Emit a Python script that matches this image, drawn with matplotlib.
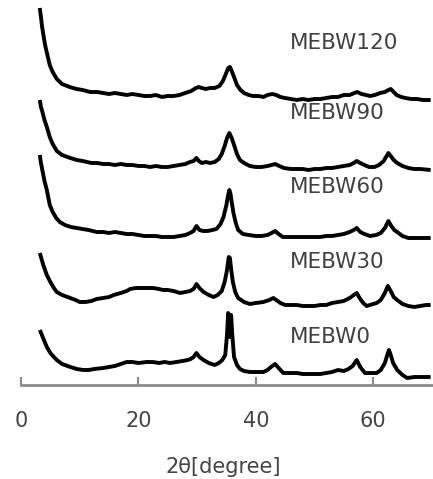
import matplotlib
matplotlib.use("Agg")
import matplotlib.pyplot as plt

# XRD patterns, intensity in arbitrary units (each pattern above its own baseline)
labels = ["MEBW0", "MEBW30", "MEBW60", "MEBW90", "MEBW120"]
offsets = [0, 70, 140, 210, 280]

x_mebw0 = [3.2, 3.5, 3.9, 4.4, 5.0, 5.6, 6.1, 7.0, 8.4, 9.5, 10.6, 11.5, 12.5, 14, 15, 16,
           17, 18, 19, 20, 21.4, 22.5, 23.5, 24.5, 25.4, 26.5, 27.5, 28.4, 28.9, 29.4,
           29.9, 30.4, 31.1, 32, 33, 33.7, 34.3, 34.8, 35.1, 35.3, 35.5, 35.6, 35.7, 35.8,
           36.0, 36.3, 36.8, 37.3, 38, 39, 40, 41.3, 42, 42.6, 43.3, 43.9, 44.7, 46, 47,
           48, 49, 50, 51, 52, 53, 54, 55, 55.8, 56.5, 57.2, 57.8, 58.6, 59.5, 60.6, 61.3,
           62, 62.4, 62.7, 63, 63.4, 64.1, 65, 65.8, 67, 68, 69.8]
i_mebw0 = [55, 51, 45, 38, 32, 28, 25, 21, 18, 16, 15, 15, 16, 17, 18, 19,
           21, 23, 23, 22, 23, 23, 22, 23, 22, 23, 24, 25, 26, 28,
           32, 28, 25, 22, 20, 22, 25, 30, 50, 72, 55, 48, 58, 70,
           50, 28, 20, 16, 14, 13, 13, 13, 15, 18, 21, 17, 12, 12, 12,
           11, 11, 11, 11, 12, 13, 15, 14, 16, 19, 25, 18, 12, 12, 12, 15,
           22, 30, 35, 30, 22, 15, 10, 7, 8, 8, 8]

x_mebw30 = [3.2, 3.5, 3.8, 4.4, 5.0, 5.6, 6.1, 7.0, 8.4, 9.3, 10, 11, 12, 12.9, 14, 15,
            15.8, 17, 18, 18.6, 19.5, 20.5, 21.4, 22.5, 23.5, 24.2, 25, 26, 27.1, 28,
            28.8, 29.4, 29.9, 30.4, 31.1, 32, 32.8, 33.5, 34.2, 34.7, 35.1, 35.4, 35.6,
            35.8, 36.1, 36.5, 37, 38, 39, 40, 41.3, 42.3, 43, 43.5, 44.2, 45, 46, 47, 48,
            49, 50, 51, 52, 53, 54, 55, 56, 56.7, 57.2, 57.7, 58.3, 58.9, 60, 60.6, 61.3,
            62, 62.5, 63, 63.5, 64.1, 65, 66, 67, 68, 69, 69.8]
i_mebw30 = [62, 56, 50, 40, 33, 27, 23, 20, 17, 15, 13, 13, 14, 16, 17, 18,
            20, 22, 24, 26, 27, 27, 27, 27, 26, 25, 25, 24, 22, 23,
            24, 26, 31, 27, 23, 20, 18, 20, 24, 33, 45, 58, 57,
            46, 33, 23, 17, 13, 11, 12, 13, 15, 17, 15, 12, 10, 10, 10, 9,
            9, 9, 10, 10, 12, 13, 14, 17, 20, 22, 17, 12, 9, 11, 12, 15,
            22, 29, 24, 18, 15, 11, 9, 8, 9, 10, 10]

x_mebw60 = [3.2, 3.4, 3.7, 4.0, 4.4, 4.9, 5.4, 6.0, 6.6, 7.5, 8.5, 9.5, 10.5, 11.5, 12.9,
            14, 15, 16, 17, 18, 19, 20, 21, 22, 23, 24, 25, 26, 27, 28, 28.8, 29.4, 29.9,
            30.4, 31, 31.8, 32.6, 33.3, 34, 34.5, 35, 35.3, 35.5, 35.7, 35.9, 36.2, 36.6,
            37, 37.8, 38.8, 40, 41, 42, 42.7, 43.3, 43.9, 44.6, 46, 47, 48, 49, 50, 51,
            52, 53, 54, 55, 56, 56.7, 57.2, 57.8, 58.5, 59.5, 60.5, 61.3, 62, 62.6, 63.1,
            63.6, 64.1, 65, 66, 67, 68, 69.8]
i_mebw60 = [90, 82, 73, 64, 55, 40, 33, 27, 23, 20, 18, 17, 16, 15, 13,
            13, 12, 13, 12, 11, 11, 10, 9, 9, 9, 8, 8, 8, 9, 10, 12, 14, 19,
            15, 14, 14, 15, 16, 21, 28, 40, 50, 55, 51, 43, 32, 22,
            15, 11, 10, 9, 9, 10, 12, 14, 11, 8, 8, 8, 8, 8, 8, 8,
            9, 9, 10, 11, 13, 15, 17, 13, 11, 9, 10, 12, 17, 24, 19,
            15, 13, 9, 7, 7, 7, 7]

x_mebw90 = [3.2, 3.4, 3.7, 4.0, 4.4, 4.9, 5.4, 6.1, 7, 8.4, 9.5, 10.5, 12, 13, 14, 15,
            16, 17, 18, 19, 20, 21, 22, 23, 24, 25, 26, 27, 28, 28.8, 29.4, 29.9, 30.3,
            30.8, 31.5, 32.2, 33, 33.7, 34.2, 34.7, 35.1, 35.5, 35.9, 36.3, 36.8, 37.3,
            38, 39, 40, 41, 42, 42.7, 43.3, 44, 44.8, 46, 47, 48, 49, 50, 51, 52, 53, 54,
            55, 56, 56.7, 57.2, 57.8, 58.5, 59.3, 60.2, 61, 61.8, 62.3, 62.6, 63, 63.5,
            64.1, 65, 66, 67, 68, 69.8]
i_mebw90 = [75, 68, 62, 55, 48, 38, 31, 24, 20, 17, 15, 14, 12, 12, 11, 11,
            10, 11, 10, 10, 9, 9, 8, 9, 8, 8, 9, 10, 11, 13, 14, 17, 14,
            12, 13, 12, 13, 16, 21, 29, 37, 42, 37, 30, 21, 15,
            12, 9, 8, 8, 9, 10, 11, 9, 7, 6, 6, 6, 5, 6, 6, 7, 7, 8,
            9, 10, 12, 14, 12, 10, 8, 8, 10, 14, 19, 22, 19, 15,
            12, 9, 7, 6, 6, 5]

x_mebw120 = [3.2, 3.4, 3.6, 3.9, 4.1, 4.5, 4.9, 5.4, 6.1, 7.0, 8.3, 9.5, 10.5, 11.8, 13,
             14, 15, 16, 17, 18, 19, 20, 21, 22, 23, 24, 25, 26, 27, 28, 29, 29.8, 30.3,
             30.8, 31.5, 32.2, 33, 33.8, 34.4, 34.9, 35.3, 35.6, 35.9, 36.3, 36.8, 37.4,
             38, 38.8, 39.5, 40.5, 41.3, 42, 42.8, 43.5, 44.2, 45, 46, 47, 48, 49, 50, 51,
             52, 53, 54, 55, 56, 56.8, 57.3, 58, 58.8, 59.5, 60.3, 61.2, 62, 62.6, 63,
             63.5, 64, 64.8, 65.5, 66.5, 67.5, 68.5, 69.8]
i_mebw120 = [97, 88, 78, 67, 60, 50, 40, 33, 26, 21, 18, 16, 15, 13, 13,
             12, 11, 12, 11, 10, 11, 10, 9, 9, 10, 8, 9, 9, 10, 12, 14, 17, 18,
             17, 16, 17, 17, 19, 24, 31, 37, 38, 34, 28, 20, 15,
             12, 10, 9, 9, 8, 10, 11, 10, 8, 7, 6, 5, 6, 5, 6, 6,
             7, 8, 8, 10, 10, 12, 13, 11, 10, 9, 10, 12, 13, 15, 16,
             13, 10, 8, 7, 6, 6, 5, 5]

patterns = [(x_mebw0, i_mebw0), (x_mebw30, i_mebw30), (x_mebw60, i_mebw60),
            (x_mebw90, i_mebw90), (x_mebw120, i_mebw120)]
label_y = [48, 123, 198, 272, 342]

xticks = [0, 20, 40, 60]

fig = plt.figure(figsize=(4.33, 4.79), dpi=100)
ax = fig.add_axes([21 / 433, 94 / 479, 412 / 433, 385 / 479])

for (xs, ys), off, name, ly in zip(patterns, offsets, labels, label_y):
    ax.plot(xs, [v + off for v in ys], color="black", lw=2.8,
            solid_joinstyle="round", solid_capstyle="butt")
    ax.text(45.8, ly, name, fontsize=15.5, color="#404040", va="center", ha="left")

ax.set_xlim(0, 70.2)
ax.set_ylim(0, 385)
ax.set_xticks(xticks)
ax.set_yticks([])
for s in ["top", "right", "left"]:
    ax.spines[s].set_visible(False)
ax.spines["bottom"].set_color("#8a8a8a")
ax.spines["bottom"].set_linewidth(2)
ax.tick_params(axis="x", direction="in", length=6, width=1.5, color="#8a8a8a",
               pad=19, labelsize=15, labelcolor="#444444")

fig.text(223 / 433, 1 - 467 / 479, "2θ[degree]", fontsize=15, color="#444444",
         ha="center", va="center")

fig.savefig("out.png", dpi=100)
